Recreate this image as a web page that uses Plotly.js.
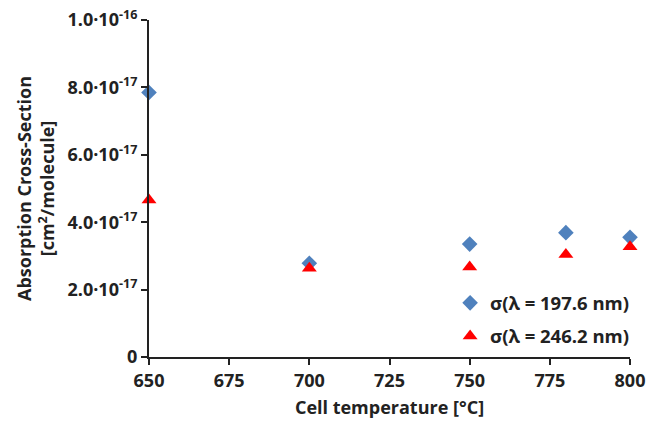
<!DOCTYPE html>
<html>
<head>
<meta charset="utf-8">
<script src="https://cdn.plot.ly/plotly-3.0.1.min.js"></script>
<style>html,body{margin:0;padding:0;background:#fff;}#chart{width:649px;height:424px;}</style>
</head>
<body>
<div id="chart"></div>
<script>
const temperatures = [650, 700, 750, 780, 800];
const sigma197 = [7.85e-17, 2.78e-17, 3.35e-17, 3.69e-17, 3.55e-17];
const sigma246 = [4.66e-17, 2.63e-17, 2.67e-17, 3.04e-17, 3.27e-17];
const yTickVals = [0, 2e-17, 4e-17, 6e-17, 8e-17, 1e-16];
const yTickText = ['0', '2.0·10<sup>-17</sup>', '4.0·10<sup>-17</sup>', '6.0·10<sup>-17</sup>', '8.0·10<sup>-17</sup>', '1.0·10<sup>-16</sup>'];
const xTickVals = [650, 675, 700, 725, 750, 775, 800];

const fontFam = '"Open Sans", sans-serif';
const traces = [
  {x: temperatures, y: sigma197, type: 'scatter', mode: 'markers', name: 'σ(λ = 197.6 nm)', legendgroup: 'a',
   marker: {symbol: 'diamond', size: 12, color: '#4f81bd'}, cliponaxis: false},
  {x: temperatures, y: sigma246, type: 'scatter', mode: 'markers', name: 'σ(λ = 246.2 nm)', legendgroup: 'b',
   marker: {symbol: 'triangle-up', size: 13, color: '#ff0000'}, cliponaxis: false}
];
const layout = {
  width: 649, height: 424,
  margin: {l: 149, r: 19, t: 20, b: 67},
  paper_bgcolor: '#fff', plot_bgcolor: '#fff',
  font: {family: fontFam, size: 18, color: '#222', weight: 'bold'},
  showlegend: true,
  legend: {x: 0.626, y: 0.005, xanchor: 'left', yanchor: 'bottom', bgcolor: 'rgba(0,0,0,0)',
    font: {family: fontFam, size: 18.5, color: '#222', weight: 'bold'}, tracegroupgap: 6, itemwidth: 30},
  xaxis: {range: [650, 800], tickvals: xTickVals, ticks: 'outside', ticklen: 6, tickwidth: 2, tickcolor: '#222',
    showline: true, linewidth: 2, linecolor: '#222', showgrid: false, zeroline: false, automargin: false,
    tickfont: {family: fontFam, size: 18, weight: 'bold'},
    title: {text: 'Cell temperature [°C]', font: {family: fontFam, size: 18, weight: 'bold'}, standoff: 11}},
  yaxis: {range: [0, 1e-16], tickvals: yTickVals, ticktext: yTickText, ticks: 'outside', ticklen: 6, tickwidth: 2, tickcolor: '#222',
    showline: true, linewidth: 2, linecolor: '#222', showgrid: false, zeroline: false, automargin: false,
    tickfont: {family: fontFam, size: 18, weight: 'bold'},
    title: {text: 'Absorption Cross-Section<br>[cm<sup>2</sup>/molecule]', font: {family: fontFam, size: 18, weight: 'bold'}, standoff: 8}}
};
Plotly.newPlot('chart', traces, layout, {displayModeBar: false, staticPlot: true});
</script>
</body>
</html>
